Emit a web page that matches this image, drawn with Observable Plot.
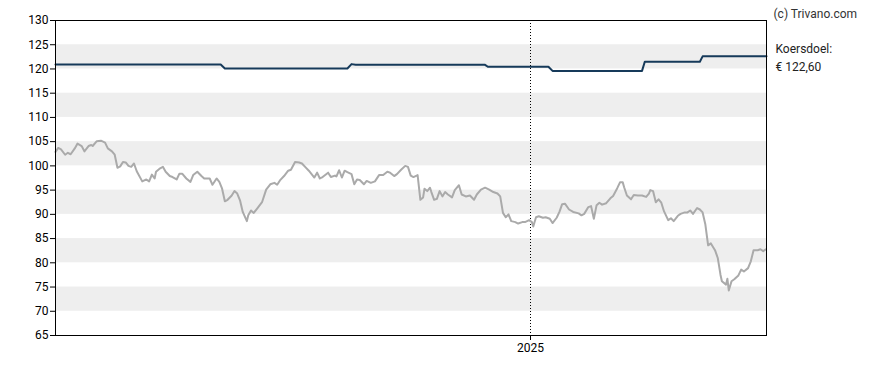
<!DOCTYPE html>
<html>
<head>
<meta charset="utf-8">
<script src="https://cdn.jsdelivr.net/npm/d3@7"></script>
<script src="https://cdn.jsdelivr.net/npm/@observablehq/plot@0.6"></script>
<style>
  body { margin: 0; background: #fff; }
  #chart svg { display: block; }
</style>
</head>
<body>
<div id="chart"></div>
<script>
// ---- data ----
const startDate = "2024-01-22";   // first day shown (day 0)
const endDay = 516.4;             // last day shown
const xTickDates = ["2025-01-01"];
const yTicks = [65, 70, 75, 80, 85, 90, 95, 100, 105, 110, 115, 120, 125, 130];
const bandLows = [70, 80, 90, 100, 110, 120];
const bandHighs = [75, 85, 95, 105, 115, 125];

// closing price (days since startDate)
const priceDays = [0,2,4,7,9,11,14,16,19,21,24,26,27,30,33,36,38,41,43,45,47,49,51,53,55,57,59,63,66,68,70,72,73,76,78,80,83,85,88,90,92,95,98,100,103,106,108,112,114,117,119,121,123,125,128,130,132,134,136,139,140,142,144,147,150,153,156,159,161,163,166,169,171,174,177,179,182,184,188,190,192,194,198,200,203,204,206,208,210,212,215,217,219,221,224,226,229,232,235,238,241,243,246,248,251,254,256,258,260,263,265,267,268,270,272,273,275,277,279,281,283,285,288,290,293,295,298,301,304,306,309,312,315,318,321,323,325,327,329,331,334,336,339,341,344,346,347,349,351,354,356,359,361,364,366,368,370,373,376,380,382,384,387,389,391,393,395,397,400,403,405,408,410,412,413,415,418,420,423,426,429,431,432,434,436,438,440,442,445,447,449,452,454,457,459,461,463,466,468,470,472,474,476,479,481,483,484,487,488,489,491,493,496,498,500,503,505,507,510,512,514,516];
const priceValues = [102.9,103.7,103.4,102.3,102.7,102.4,103.6,104.6,104.1,103.0,104.1,104.3,104.1,105.1,105.2,104.8,103.6,103.0,102.3,99.6,99.9,100.8,100.7,100.0,99.8,100.5,98.9,96.8,97.2,96.8,98.2,97.4,98.8,99.5,99.8,98.8,97.9,97.7,97.2,98.4,98.4,97.4,96.7,98.1,98.8,97.9,97.4,97.4,96.1,97.4,96.7,95.3,92.7,93.0,93.9,94.8,94.3,92.9,90.5,88.6,89.8,90.8,90.3,91.4,92.5,95.1,96.2,96.5,96.1,97.0,97.9,99.0,99.2,100.8,100.7,100.5,99.6,99.0,97.6,98.6,97.4,97.7,98.6,97.7,98.0,97.8,99.1,97.6,99.0,98.7,98.3,96.2,97.2,97.1,96.2,96.9,96.5,96.8,98.1,98.1,98.8,98.6,97.9,98.3,99.2,100.0,99.8,98.0,97.7,98.1,93.0,93.5,95.3,94.8,95.5,94.6,93.0,93.2,94.8,93.7,94.6,94.1,93.5,95.0,96.0,94.1,93.7,93.9,93.0,94.1,95.1,95.5,95.1,94.6,94.3,93.7,90.3,89.4,90.0,88.6,88.4,88.1,88.4,88.4,88.8,88.4,87.5,89.4,89.6,89.3,89.4,89.1,88.2,89.3,90.5,92.1,92.2,91.0,90.5,90.2,89.8,90.1,91.5,91.7,89.1,91.9,92.4,92.0,92.3,93.3,93.8,95.4,96.6,96.6,95.6,93.9,93.1,94.0,93.9,93.9,93.6,94.3,95.0,94.8,92.5,93.1,92.4,90.6,88.8,89.2,88.6,89.7,90.1,90.4,90.4,90.8,90.1,91.3,91.0,90.4,87.9,83.6,84.0,82.6,81.0,77.5,76.2,75.5,76.7,74.3,76.2,76.6,77.4,78.6,78.2,78.9,80.3,82.6,82.6,82.8,82.4,82.8];

// price target ("koersdoel")
const targetDays = [0,120,123,212,215,218,312,314,358,361,426,428,468,470,516.4];
const targetValues = [120.9,120.9,120.1,120.1,121.0,120.85,120.85,120.45,120.45,119.6,119.6,121.5,121.5,122.6,122.6];

const targetLabel = ["Koersdoel:", "€ 122,60"];
const copyright = "(c) Trivano.com";

// ---- build tables ----
const t0 = Date.parse(startDate + "T00:00:00Z");
const toDate = d => new Date(t0 + d * 864e5);
const price = priceDays.map((d, i) => ({date: toDate(d), value: priceValues[i]}));
const target = targetDays.map((d, i) => ({date: toDate(d), value: targetValues[i]}));
const bands = bandLows.map((lo, i) => ({lo, hi: bandHighs[i]}));
const xTicks = xTickDates.map(s => new Date(s + "T00:00:00Z"));
const last = target[target.length - 1];

const chart = Plot.plot({
  width: 888,
  height: 370,
  marginLeft: 55,
  marginRight: 122,
  marginTop: 20,
  marginBottom: 35,
  style: {fontFamily: "Roboto, 'Noto Sans', sans-serif", fontSize: "12px", color: "#000", background: "#fff", overflow: "visible"},
  x: {type: "utc", domain: [toDate(0), toDate(endDay)], label: null},
  y: {domain: [65, 130], label: null},
  marks: [
    Plot.rect(bands, {y1: "lo", y2: "hi", fill: "#eeeeee"}),
    Plot.ruleX(xTicks, {stroke: "#000", strokeDasharray: "1,2", strokeWidth: 1}),
    Plot.line(price, {x: "date", y: "value", stroke: "#aaaaaa", strokeWidth: 2}),
    Plot.line(target, {x: "date", y: "value", stroke: "#163a5a", strokeWidth: 2}),
    Plot.frame({stroke: "#000"}),
    Plot.axisY({ticks: yTicks, tickSize: 5, tickPadding: 2, fontSize: 12, label: null}),
    Plot.axisX({ticks: xTicks, tickSize: 5, tickPadding: 3, fontSize: 12, tickFormat: d3.utcFormat("%Y"), label: null}),
    Plot.text([targetLabel.join("\n")], {x: () => last.date, y: () => last.value, text: d => d, textAnchor: "start", dx: 9, lineHeight: 1.45, fontSize: 12, fill: "#222"}),
    Plot.text([copyright], {frameAnchor: "top-right", text: d => d, textAnchor: "start", dx: 7, dy: -11, fontSize: 12, fill: "#333"})
  ]
});
document.getElementById("chart").append(chart);
</script>
</body>
</html>
